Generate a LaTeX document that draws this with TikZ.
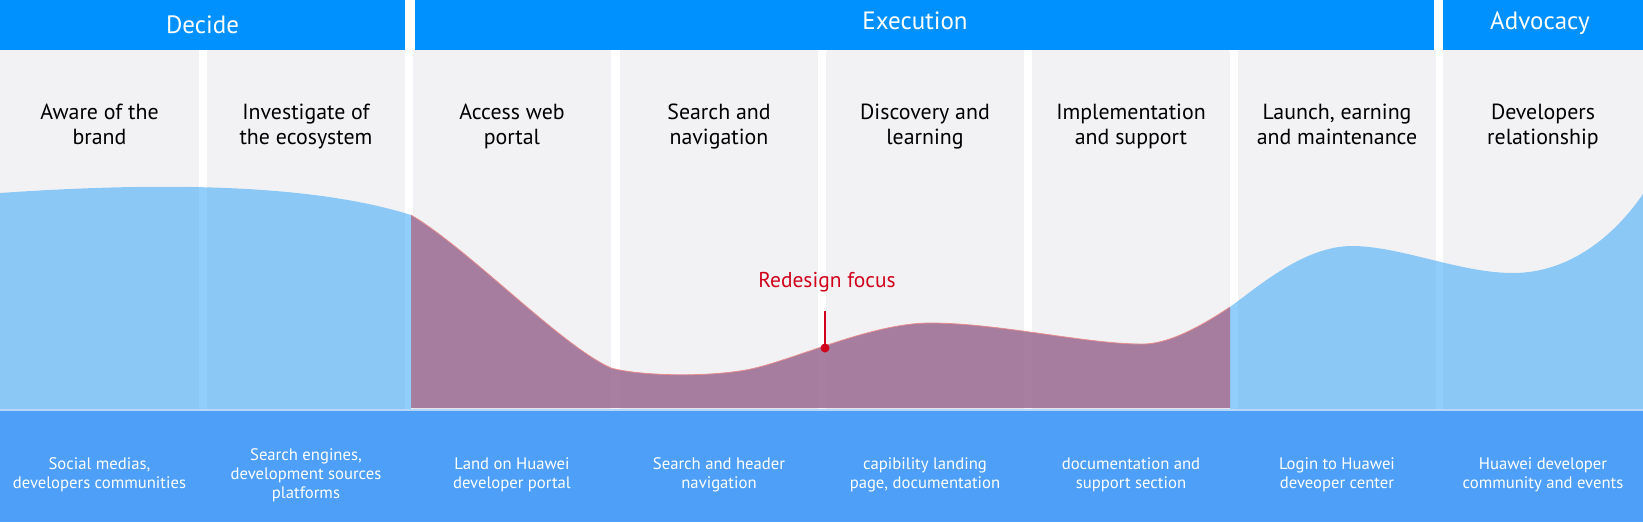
\documentclass[tikz,border=0pt]{standalone}
\usepackage{fontspec}
\setmainfont{PT Sans}
\usepackage{tikz}
\usepackage{xcolor}

\definecolor{phaseblue}{RGB}{0,145,255}
\definecolor{colgray}{RGB}{242,242,244}
\definecolor{bandblue}{RGB}{77,159,247}
\definecolor{bandedge}{RGB}{180,215,250}
\definecolor{curveblue}{RGB}{58,166,249}
\definecolor{focuspurple}{RGB}{153,104,145}
\definecolor{focusedge}{RGB}{232,140,140}
\definecolor{focusred}{RGB}{208,2,27}

\tikzset{
  phaselabel/.style={anchor=base, text=white, inner sep=0pt, font=\fontsize{18.75}{22}\selectfont},
  stagelabel/.style={anchor=north, align=center, inner sep=0pt, text=black, font=\fontsize{16.4}{18.75}\selectfont},
  touchlabel/.style={anchor=center, align=center, inner sep=0pt, text=white, font=\fontsize{12.5}{14.25}\selectfont},
  focuslabel/.style={anchor=base, inner sep=0pt, text=focusred, font=\fontsize{16.1}{18}\selectfont},
  focusdot/.style={circle, fill=focusred, inner sep=0pt, minimum size=6.75pt},
}

\begin{document}
\begin{tikzpicture}[x=0.75pt,y=0.75pt,yscale=-1,xscale=1]
\useasboundingbox (0,0) rectangle (1643,522);
\fill[white] (0,0) rectangle (1643,522);

%Shape: Rectangle (touchpoint band)
\fill[bandblue] (0,410) rectangle (1643,522);

%Shape: Rectangle (stage columns)
\foreach \xa/\xb in {0/199, 207/405, 413/611, 620/818, 826/1024, 1032/1230, 1238/1436, 1443/1643}
  \fill[colgray] (\xa,50) rectangle (\xb,410);

% Text Node
\node[stagelabel] (stage1) at (99.5,104) {Aware of the\\brand};
\node[stagelabel] (stage2) at (306,104) {Investigate of\\the ecosystem};
\node[stagelabel] (stage3) at (512,104) {Access web\\portal};
\node[stagelabel] (stage4) at (719,104) {Search and\\navigation};
\node[stagelabel] (stage5) at (925,104) {Discovery and\\learning};
\node[stagelabel] (stage6) at (1131,104) {Implementation\\and support};
\node[stagelabel] (stage7) at (1337,104) {Launch, earning\\and maintenance};
\node[stagelabel] (stage8) at (1543,104) {Developers\\relationship};

% Text Node
\node[touchlabel] (touch1) at (99.5,475) {Social medias,\\developers communities};
\node[touchlabel] (touch2) at (306,475) {Search engines,\\development sources\\platforms};
\node[touchlabel] (touch3) at (512,475) {Land on Huawei\\developer portal};
\node[touchlabel] (touch4) at (719,475) {Search and header\\navigation};
\node[touchlabel] (touch5) at (925,475) {capibility landing\\page, documentation};
\node[touchlabel] (touch6) at (1131,475) {documentation and\\support section};
\node[touchlabel] (touch7) at (1337,475) {Login to Huawei\\deveoper center};
\node[touchlabel] (touch8) at (1543,475) {Huawei developer\\community and events};

%Shape: Rectangle (phase headers)
\fill[phaseblue] (0,0) rectangle (405,50);
\fill[phaseblue] (415,0) rectangle (1434,50);
\fill[phaseblue] (1443,0) rectangle (1643,50);

% Text Node
\node[phaselabel] (decide) at (202.5,33.5) {Decide};
% Text Node
\node[phaselabel] (execution) at (915,29.3) {Execution};
% Text Node
\node[phaselabel] (advocacy) at (1540,29.3) {Advocacy};

%Shape: Curve (experience, left and right)
\fill[curveblue, fill opacity=0.55] (0,410) -- (0,193) .. controls (130,184) and (300,180) .. (411,215) -- (411,410) -- cycle;
\fill[curveblue, fill opacity=0.55] (1230,410) -- (1230,307) .. controls (1260,285) and (1305,246) .. (1352,246) .. controls (1400,246) and (1460,273) .. (1513,273) .. controls (1570,273) and (1615,235) .. (1643,194) -- (1643,410) -- cycle;

%Shape: Curve (redesign focus area)
\fill[focuspurple, fill opacity=0.85] (411,408) -- (411,215) .. controls (470,250) and (560,345) .. (611,368) .. controls (635,375) and (700,378) .. (746,370) .. controls (790,362) and (870,323) .. (930,323) .. controls (1000,323) and (1090,345) .. (1145,344) .. controls (1170,343) and (1200,327) .. (1230,307) -- (1230,408) -- cycle;
\draw[focusedge, line width=0.6pt] (411,215) .. controls (470,250) and (560,345) .. (611,368) .. controls (635,375) and (700,378) .. (746,370) .. controls (790,362) and (870,323) .. (930,323) .. controls (1000,323) and (1090,345) .. (1145,344) .. controls (1170,343) and (1200,327) .. (1230,307);

%Straight Lines (band edge)
\fill[bandedge] (0,408.5) rectangle (1643,410.5);

% focus marker
\node[focusdot] (focuspt) at (825,348) {};
\coordinate (focustip) at (825,311);
\draw[focusred, line width=1.1pt] (focuspt.center) -- (focustip);
% Text Node
\node[focuslabel] (focus) at (827,287.3) {Redesign focus};

\end{tikzpicture}
\end{document}
